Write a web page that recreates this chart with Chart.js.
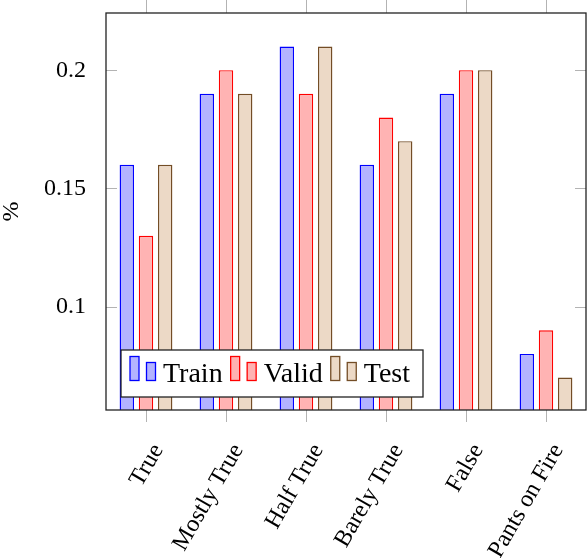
<!DOCTYPE html>
<html><head><meta charset="utf-8">
<script src="https://cdn.jsdelivr.net/npm/chart.js@4"></script>
<style>html,body{margin:0;padding:0;background:#fff;} canvas{display:block;}</style>
</head><body>
<canvas id="c" width="588" height="558"></canvas>
<script>
const categories = ['True', 'Mostly True', 'Half True', 'Barely True', 'False', 'Pants on Fire'];
const trainValues = [0.16, 0.19, 0.21, 0.16, 0.19, 0.08];
const validValues = [0.13, 0.20, 0.19, 0.18, 0.20, 0.09];
const testValues  = [0.16, 0.19, 0.21, 0.17, 0.20, 0.07];
const seriesNames = ['Train', 'Valid', 'Test'];
const yTickValues = [0.1, 0.15, 0.2];
const yTickLabels = ['0.1', '0.15', '0.2'];
const yMin = 0.0563, yMax = 0.2242;
const yTitle = '%';

const FONT = '"Liberation Serif", "Times New Roman", serif';
const TICK_COLOR = '#b3b3b3';

const framePlugin = {
  id: 'frame',
  afterDraw(chart) {
    const ctx = chart.ctx, a = chart.chartArea;
    const xs = chart.scales.x, ys = chart.scales.y;
    ctx.save();
    ctx.strokeStyle = TICK_COLOR; ctx.lineWidth = 1;
    ctx.beginPath();
    xs.ticks.forEach((t, i) => {
      const px = Math.round(xs.getPixelForTick(i)) + 0.5;
      ctx.moveTo(px, a.bottom); ctx.lineTo(px, a.bottom + 12);
      ctx.moveTo(px, a.top); ctx.lineTo(px, a.top - 13);
    });
    ys.ticks.forEach(t => {
      const py = Math.round(ys.getPixelForValue(t.value)) + 0.5;
      ctx.moveTo(a.left, py); ctx.lineTo(a.left + 11, py);
      ctx.moveTo(a.right, py); ctx.lineTo(a.right - 11, py);
    });
    ctx.stroke();
    ctx.strokeStyle = '#222'; ctx.lineWidth = 1.3;
    ctx.strokeRect(a.left, a.top, a.right - a.left, a.bottom - a.top);

    // legend
    ctx.font = '28px ' + FONT;
    const ds = chart.data.datasets;
    const widths = ds.map(d => ctx.measureText(d.label).width);
    const boxLeft = a.left + 15, boxBottom = a.bottom - 13, boxTop = boxBottom - 47;
    let total = 9;
    widths.forEach(w => total += 33 + w + 8);
    total += 5;
    ctx.fillStyle = '#fff';
    ctx.fillRect(boxLeft, boxTop, total, boxBottom - boxTop);
    ctx.strokeStyle = '#222'; ctx.lineWidth = 1.3;
    ctx.strokeRect(boxLeft, boxTop, total, boxBottom - boxTop);
    const base = boxBottom - 15;
    let x = boxLeft + 9;
    ds.forEach((d, i) => {
      ctx.lineWidth = 1.3;
      ctx.fillStyle = d.backgroundColor; ctx.strokeStyle = d.borderColor;
      ctx.fillRect(x, base - 25.5, 9, 24);
      ctx.strokeRect(x, base - 25.5, 9, 24);
      ctx.fillRect(x + 16.5, base - 19.5, 9, 18);
      ctx.strokeRect(x + 16.5, base - 19.5, 9, 18);
      ctx.fillStyle = '#000';
      ctx.textBaseline = 'alphabetic'; ctx.textAlign = 'left';
      ctx.fillText(d.label, x + 33, base);
      x += 33 + widths[i] + 8;
    });
    ctx.restore();
  }
};

new Chart(document.getElementById('c'), {
  type: 'bar',
  data: {
    labels: categories,
    datasets: [
      { label: seriesNames[0], data: trainValues, backgroundColor: 'rgb(179,179,255)', borderColor: 'rgb(0,0,255)' },
      { label: seriesNames[1], data: validValues, backgroundColor: 'rgb(255,179,179)', borderColor: 'rgb(255,0,0)' },
      { label: seriesNames[2], data: testValues, backgroundColor: 'rgb(236,217,198)', borderColor: 'rgb(115,77,38)' }
    ]
  },
  options: {
    responsive: false,
    animation: false,
    devicePixelRatio: 1,
    layout: { padding: { top: 13, right: 2, left: 0, bottom: 0 } },
    datasets: { bar: { borderWidth: 1.4, borderSkipped: false, categoryPercentage: 0.72, barPercentage: 0.75 } },
    plugins: { legend: { display: false }, tooltip: { enabled: false } },
    scales: {
      x: {
        grid: { display: false }, border: { display: false },
        ticks: { autoSkip: false, maxRotation: 60, minRotation: 60, padding: 21, labelOffset: 12, color: '#000', font: { family: FONT, size: 24 } },
        afterFit(s) { s.height = 148; s.paddingLeft = 0; s.paddingRight = 0; }
      },
      y: {
        min: yMin, max: yMax,
        grid: { display: false }, border: { display: false },
        afterBuildTicks(s) { s.ticks = yTickValues.map(v => ({ value: v })); },
        ticks: {
          padding: 12, color: '#000', font: { family: FONT, size: 24 },
          callback(v) { const i = yTickValues.indexOf(v); return i >= 0 ? yTickLabels[i] : ''; }
        },
        title: { display: true, text: yTitle, color: '#000', padding: { top: 0, bottom: 0 }, font: { family: FONT, size: 24, lineHeight: 1 } },
        afterFit(s) { s.width = 106; s.paddingTop = 0; s.paddingBottom = 0; }
      }
    }
  },
  plugins: [framePlugin]
});
</script>
</body></html>
